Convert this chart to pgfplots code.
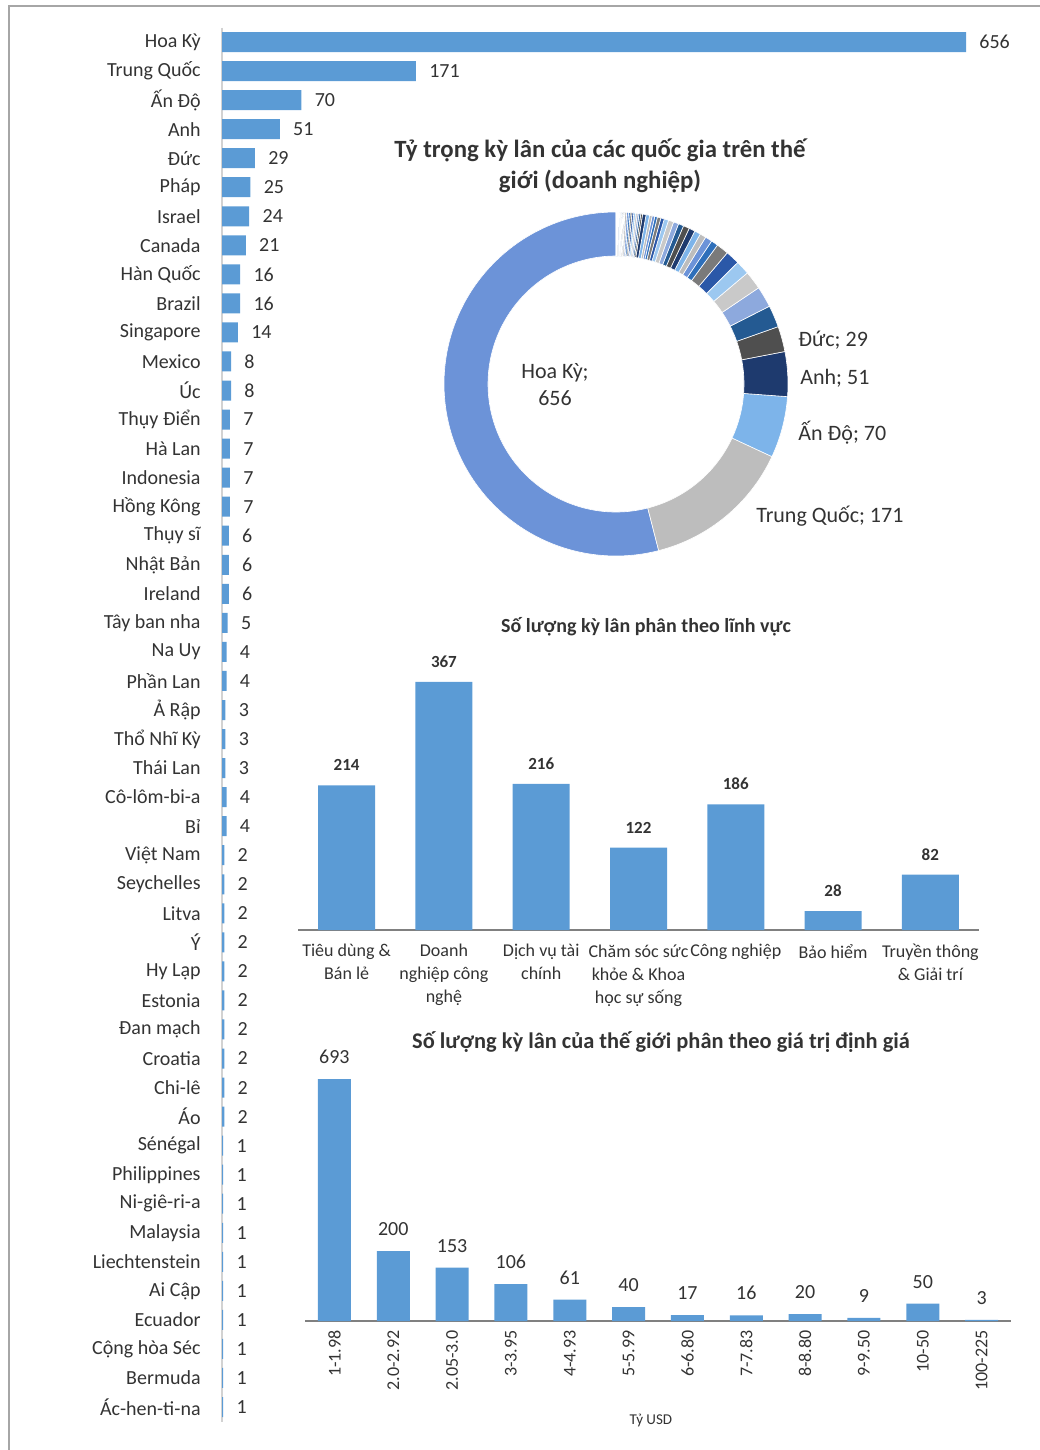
\documentclass[border=0pt]{standalone}
\usepackage{fontspec}
\setmainfont{Carlito}
\usepackage{pgfplots}
\usepackage{pgfplotstable}
\pgfplotsset{compat=1.18}

\definecolor{barblue}{HTML}{5B9BD5}
\definecolor{txt}{HTML}{333333}
\definecolor{framegray}{HTML}{A6A6A6}
% donut palette, from Hoa Ky going round
\definecolor{donut0}{HTML}{6C93D8}
\definecolor{donut1}{HTML}{BDBDBD}
\definecolor{donut2}{HTML}{7DB4EA}
\definecolor{donut3}{HTML}{1E3A6E}
\definecolor{donut4}{HTML}{4F4F4F}
\definecolor{donut5}{HTML}{245A92}
\definecolor{donut6}{HTML}{8DA9DD}
\definecolor{donut7}{HTML}{C9C9C9}
\definecolor{donut8}{HTML}{9CC8F0}
\definecolor{donut9}{HTML}{2B58A8}
\definecolor{donut10}{HTML}{7A7A7A}
\definecolor{donut11}{HTML}{2E6FBA}

\pgfplotstableread[col sep=comma]{
name,val
Hoa Kỳ,656
Trung Quốc,171
Ấn Độ,70
Anh,51
Đức,29
Pháp,25
Israel,24
Canada,21
Hàn Quốc,16
Brazil,16
Singapore,14
Mexico,8
Úc,8
Thụy Điển,7
Hà Lan,7
Indonesia,7
Hồng Kông,7
Thụy sĩ,6
Nhật Bản,6
Ireland,6
Tây ban nha,5
Na Uy,4
Phần Lan,4
Ả Rập,3
Thổ Nhĩ Kỳ,3
Thái Lan,3
Cô-lôm-bi-a,4
Bỉ,4
Việt Nam,2
Seychelles,2
Litva,2
Ý,2
Hy Lạp,2
Estonia,2
Đan mạch,2
Croatia,2
Chi-lê,2
Áo,2
Sénégal,1
Philippines,1
Ni-giê-ri-a,1
Malaysia,1
Liechtenstein,1
Ai Cập,1
Ecuador,1
Cộng hòa Séc,1
Bermuda,1
Ác-hen-ti-na,1
}\countries

\pgfplotstableread[col sep=comma]{
x,val
0,214
1,367
2,216
3,122
4,186
5,28
6,82
}\sectors

\pgfplotstableread[col sep=comma]{
x,val
0,693
1,200
2,153
3,106
4,61
5,40
6,17
7,16
8,20
9,9
10,50
11,3
}\valuation

\begin{document}
\begin{tikzpicture}
\useasboundingbox (0,0) rectangle (519.5pt,-725pt);
\draw[framegray, line width=1pt] (4.5pt,-730pt) -- (4.5pt,-3pt) -- (525pt,-3pt);

% countries, horizontal bars
\begin{axis}[
  at={(111pt,-13.75pt)}, anchor=north west,
  scale only axis, width=372pt, height=697pt,
  xbar, bar width=10pt,
  xmin=0, xmax=656, ymin=0.5, ymax=48.5, y dir=reverse,
  axis x line=none, axis y line*=left,
  y axis line style={draw=gray!35, line width=1pt},
  ytick={1,...,48}, yticklabels from table={\countries}{name},
  major tick length=0pt,
  yticklabel style={font=\fontsize{10}{12}\selectfont, text=txt, inner sep=0pt, xshift=-10.5pt},
  nodes near coords,
  every node near coord/.append style={font=\fontsize{10}{12}\selectfont, text=txt, anchor=west, inner sep=0pt, xshift=6.5pt},
  /pgf/number format/assume math mode=true,
  clip=false,
]
\addplot[fill=barblue, draw=none] table[x=val, y expr=\coordindex+1] {\countries};
\end{axis}

% donut
\node[font=\bfseries\fontsize{12.4}{15.5}\selectfont, text=txt, align=center] at (300pt,-83pt)
  {Tỷ trọng kỳ lân của các quốc gia trên thế\\giới (doanh nghiệp)};
\begin{axis}[
  at={(308pt,-192pt)}, anchor=origin,
  scale only axis, width=172pt, height=172pt,
  xmin=-172, xmax=172, ymin=-172, ymax=172,
  hide axis, clip=false,
]
\addplot[draw=none, forget plot] coordinates {(0,0)};
\pgfplotsextra{
  \xdef\tot{0}
  \pgfplotstableforeachcolumnelement{val}\of\countries\as\v{%
    \pgfmathsetmacro\t{\tot+\v}\xdef\tot{\t}}
  \xdef\acc{0}
  \pgfplotstableforeachcolumnelement{val}\of\countries\as\v{%
    \pgfmathsetmacro\a{90+360*(\acc/\tot)}%
    \pgfmathsetmacro\b{90+360*((\acc+\v)/\tot)}%
    \pgfmathtruncatemacro\ci{mod(\pgfplotstablerow,12)}%
    \fill[donut\ci, draw=white, line width=0.3pt] (axis cs:0,0) ++(\a:86pt)
      arc[start angle=\a, end angle=\b, radius=86pt] -- ++(\b+180:22pt)
      arc[start angle=\b, end angle=\a, radius=64pt] -- cycle;
    \pgfmathsetmacro\t{\acc+\v}\xdef\acc{\t}%
  }
}
\end{axis}
\begin{scope}[every node/.style={font=\fontsize{11}{13.5}\selectfont, text=txt, inner sep=0pt}]
\node[align=center] at (277.5pt,-192.5pt) {Hoa Kỳ;\\656};
\node[anchor=west] at (399pt,-170pt) {Đức; 29};
\node[anchor=west] at (400pt,-189pt) {Anh; 51};
\node[anchor=west] at (399pt,-216.5pt) {Ấn Độ; 70};
\node[anchor=west] at (378pt,-258pt) {Trung Quốc; 171};
\end{scope}

% sectors
\node[font=\bfseries\fontsize{10}{12}\selectfont, text=txt] at (323pt,-313.5pt)
  {Số lượng kỳ lân phân theo lĩnh vực};
\begin{axis}[
  at={(149pt,-465pt)}, anchor=south west,
  scale only axis, width=340.5pt, height=135.2pt,
  ybar, bar width=28.5pt,
  xmin=-0.5, xmax=6.5, ymin=0, ymax=400,
  axis x line*=bottom, axis y line=none,
  x axis line style={draw=gray, line width=0.8pt},
  xtick=data,
  xticklabels={{Tiêu dùng \&\\Bán lẻ}, {Doanh\\nghiệp công\\nghệ}, {Dịch vụ tài\\chính},
    {Chăm sóc sức\\khỏe \& Khoa\\học sự sống}, {Công nghiệp}, {Bảo hiểm}, {Truyền thông\\\& Giải trí}},
  major tick length=0pt,
  xticklabel style={font=\fontsize{9}{11.5}\selectfont, text=txt, align=center, inner sep=0pt, anchor=north},
  xticklabel shift=7pt,
  nodes near coords,
  every node near coord/.append style={font=\bfseries\fontsize{8.5}{10}\selectfont, text=txt, inner sep=0pt, anchor=south, yshift=7pt},
  /pgf/number format/assume math mode=true,
  clip=false,
]
\addplot[fill=barblue, draw=none] table[x=x, y=val] {\sectors};
\end{axis}

% valuation
\node[font=\bfseries\fontsize{11.2}{13}\selectfont, text=txt] at (330.5pt,-521pt)
  {Số lượng kỳ lân của thế giới phân theo giá trị định giá};
\begin{axis}[
  at={(152.5pt,-660.5pt)}, anchor=south west,
  scale only axis, width=353pt, height=130.95pt,
  ybar, bar width=16.5pt,
  xmin=-0.5, xmax=11.5, ymin=0, ymax=750,
  axis x line*=bottom, axis y line=none,
  x axis line style={draw=gray, line width=0.8pt},
  xtick=data,
  xticklabels={1-1.98, 2.0-2.92, 2.05-3.0, 3-3.95, 4-4.93, 5-5.99, 6-6.80, 7-7.83, 8-8.80, 9-9.50, 10-50, 100-225},
  major tick length=0pt,
  xticklabel style={font=\fontsize{9}{11}\selectfont, text=txt, rotate=90, anchor=east, inner sep=0pt},
  xticklabel shift=4.5pt,
  nodes near coords,
  every node near coord/.append style={font=\fontsize{10}{12}\selectfont, text=txt, inner sep=0pt, anchor=south, yshift=7.5pt},
  /pgf/number format/assume math mode=true,
  clip=false,
]
\addplot[fill=barblue, draw=none] table[x=x, y=val] {\valuation};
\node[font=\fontsize{7.5}{9}\selectfont, text=txt] at (rel axis cs:0.49,0) [yshift=-49.5pt] {Tỷ USD};
\end{axis}
\end{tikzpicture}
\end{document}
